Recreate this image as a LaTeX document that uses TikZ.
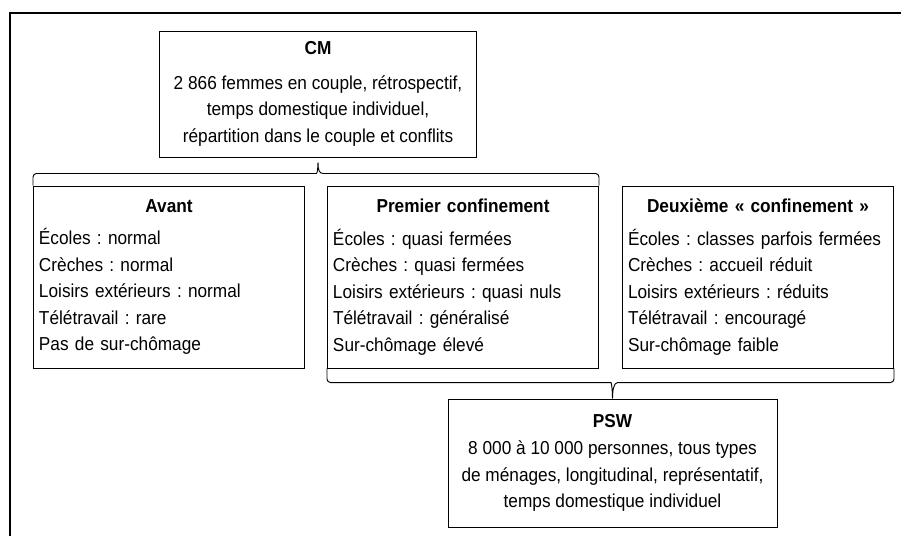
\documentclass[tikz,border=0pt]{standalone}
\usepackage{fontspec}
\setmainfont{Liberation Sans}[FakeStretch=0.92]
\usepackage{tikz}
\usetikzlibrary{calc}
\setlength{\parindent}{0pt}
\frenchspacing
\hyphenpenalty=10000

\newcommand{\boxtitle}[1]{{\centering\bfseries #1\par}\vspace{5.4pt}}

\tikzset{
  outerframe/.style={line width=1.6pt},
  period/.style={draw, line width=0.8pt, text width=7.8cm, inner xsep=0.165cm,
    minimum height=5.46cm, align=left, font=\fontsize{16}{22.6}\selectfont},
  survey/.style={draw, line width=0.8pt, align=center, font=\fontsize{16}{22.6}\selectfont},
  bracket/.style={line width=0.8pt},
}

\begin{document}
\begin{tikzpicture}[x=0.03cm, y=-0.03cm]
  \useasboundingbox (0,0) rectangle (901,536);
  \clip (0,0) rectangle (901,536);

  % outer frame (cut by the page)
  \draw[outerframe] (10,560) -- (10,13) -- (930,13);

  % --- surveys ---
  \node[survey, minimum width=9.51cm, minimum height=3.78cm] (cm) at (318,94)
    {\textbf{CM}\\[6.7pt]2 866 femmes en couple, rétrospectif,\\temps domestique individuel,\\répartition dans le couple et conflits};
  \node[survey, minimum width=9.87cm, minimum height=3.84cm] (psw) at (612.5,463)
    {\textbf{PSW}\\[1pt]8 000 à 10 000 personnes, tous types\\de ménages, longitudinal, représentatif,\\temps domestique individuel};

  % --- periods ---
  \node[period] (avant) at (169,277)
    {\boxtitle{Avant}Écoles : normal\\Crèches : normal\\Loisirs extérieurs : normal\\Télétravail : rare\\Pas de sur-chômage};
  \node[period] (premier) at (463,277)
    {\boxtitle{Premier confinement}Écoles : quasi fermées\\Crèches : quasi fermées\\Loisirs extérieurs : quasi nuls\\Télétravail : généralisé\\Sur-chômage élevé};
  \node[period] (deux) at (758,277)
    {\boxtitle{Deuxième «~confinement~»}Écoles : classes parfois fermées\\Crèches : accueil réduit\\Loisirs extérieurs : réduits\\Télétravail : encouragé\\Sur-chômage faible};

  % brackets
  \draw[bracket] (avant.north west) [rounded corners=3pt] |- ($(cm.south)+(-5,16)$)
    [sharp corners] .. controls +(4,0) and +(0,7) .. ($(cm.south)+(0,5)$)
    .. controls +(0,7) and +(-4,0) .. ($(cm.south)+(5,16)$)
    [rounded corners=3pt] -| (premier.north east);
  \draw[bracket] (premier.south west) [rounded corners=3pt] |- ($(psw.north)+(-5,-16)$)
    [sharp corners] .. controls +(4,0) and +(0,-7) .. (psw.north)
    .. controls +(0,-7) and +(-4,0) .. ($(psw.north)+(5,-16)$)
    [rounded corners=3pt] -| (deux.south east);
\end{tikzpicture}
\end{document}
